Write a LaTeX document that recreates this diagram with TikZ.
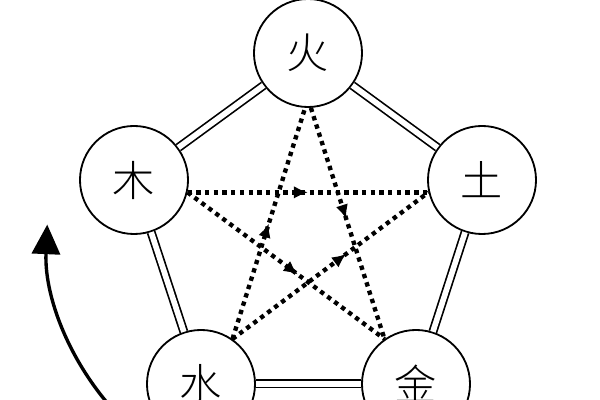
\documentclass[tikz,border=0pt]{standalone}
\usepackage{fontspec}
\newfontfamily\cjk{Noto Sans CJK SC Light}
\usetikzlibrary{arrows.meta,decorations.markings}
\begin{document}
\begin{tikzpicture}[x=0.025cm,y=0.025cm,
  elem/.style={circle,draw,line width=1.3pt,minimum size=2.7cm,inner sep=0pt,font=\cjk\fontsize{30}{30}\selectfont},
  gen/.style={double,line width=1.2pt,double distance=4pt},
  ctrl/.style={line width=3.1pt,dash pattern=on 3.1pt off 3.1pt},
  midarrow/.style={postaction={decorate},decoration={markings,mark=at position #1 with {\arrow{Latex[length=10pt,width=9pt]}}}}]
\useasboundingbox (0,0) rectangle (600,400);
\clip (0,0) rectangle (600,400);
%\draw[help lines,step=50] (0,0) grid (600,400);
\coordinate (c) at (308,164);
\node[elem] (fire) at (308,347) {火};
\node[elem] (wood) at (134,220) {木};
\node[elem] (earth) at (482,220) {土};
\node[elem] (water) at (201,16) {水};
\node[elem] (metal) at (416,16) {金};
% sheng
\draw[gen] (fire)--(wood);
\draw[gen] (fire)--(earth);
\draw[gen] (wood)--(water);
\draw[gen] (earth)--(metal);
\draw[gen] (water)--(metal);
% ke
\draw[ctrl,midarrow=0.5] (wood.-13)--(earth.193);
\draw[ctrl,midarrow=0.48] (fire.-87)--(metal.125);
\draw[ctrl,midarrow=0.5] (water.55)--(fire.-93);
\draw[ctrl,midarrow=0.56] (wood.-13)--(metal.125);
\draw[ctrl,midarrow=0.58] (water.55)--(earth.193);
\draw[line width=2.4pt,-{Triangle[length=21pt,width=20pt]}] (c) ++(226:261) arc[start angle=226,end angle=177.5,radius=261];
\end{tikzpicture}
\end{document}
